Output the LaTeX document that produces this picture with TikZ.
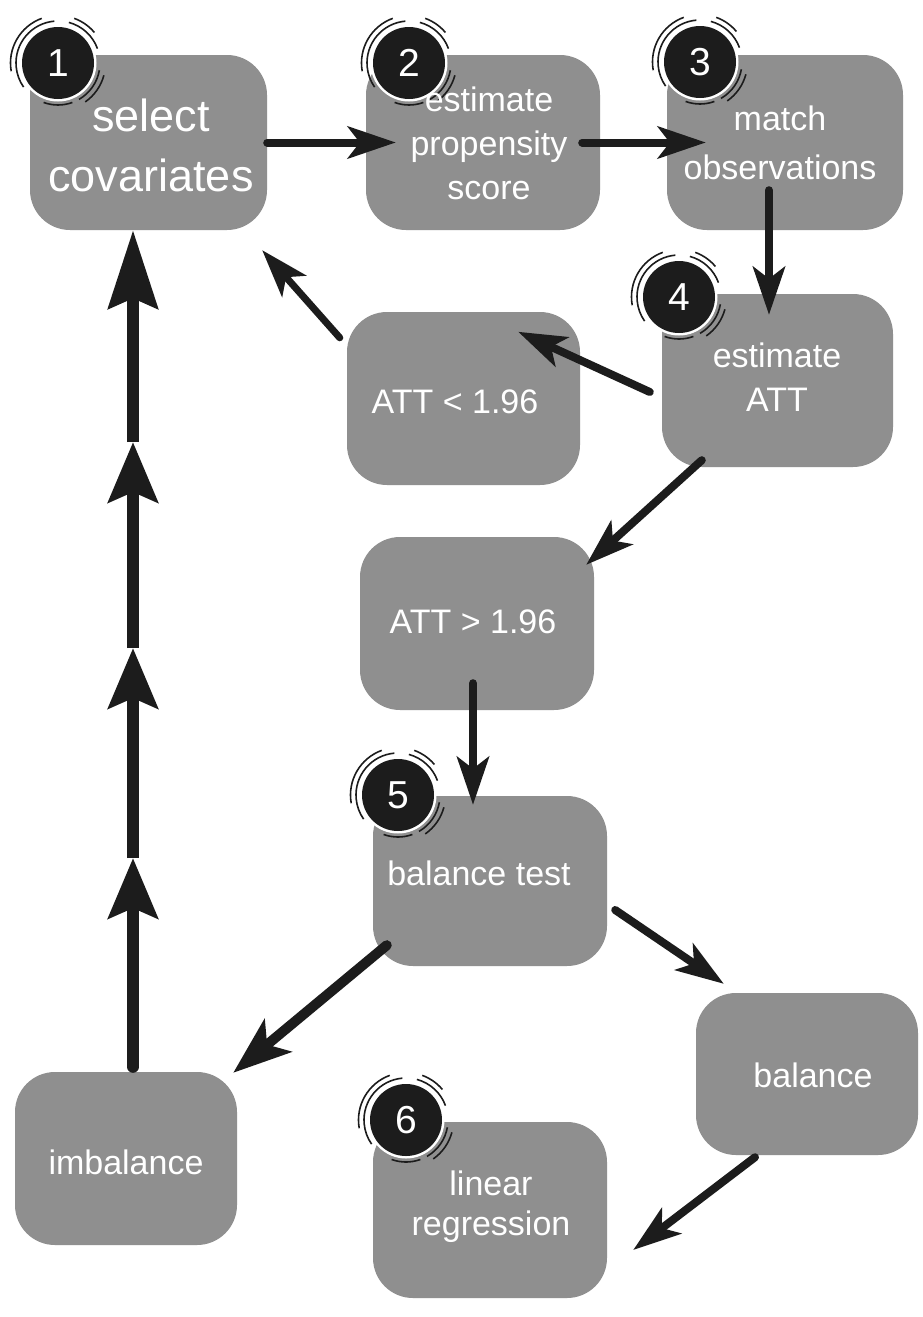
\documentclass[tikz,border=0pt]{standalone}
\usepackage{fontspec}
\setmainfont{Liberation Sans}
\usetikzlibrary{arrows.meta,calc}
\definecolor{boxgray}{HTML}{8F8F8F}
\definecolor{ink}{HTML}{1C1C1C}
\tikzset{
  box/.style={fill=boxgray, rounded corners=40pt, inner sep=0pt,
    minimum width=234pt, minimum height=174pt},
  lbl/.style={text=white, align=center, inner sep=0pt, font=\fontsize{34}{44}\selectfont},
  badge/.style={circle, fill=ink, text=white, minimum size=72pt, inner sep=0pt,
    font=\fontsize{39}{39}\selectfont},
  ring/.style={ink, line width=1.6pt},
  conn/.style={ink, line width=8pt, line cap=round, -{Stealth[length=48pt,width=32pt,inset=12pt]}},
  bigconn/.style={ink, line width=10pt, line cap=round, -{Stealth[length=58pt,width=42pt,inset=14pt]}},
  colseg/.style={ink, line width=12pt, -{Stealth[length=60pt,width=49pt,inset=10pt]}},
  coltop/.style={ink, line width=12pt, -{Stealth[length=78pt,width=49pt,inset=10pt]}},
}
\newcommand\drawbadge[3]{%
  \fill[white] #2 circle[radius=38.5pt];
  \node[badge] (#1) at #2 {#3};
  \foreach \sa/\ea/\rd in {95/215/42, 250/290/42, 300/350/42, 20/75/42, 110/190/47.5, 305/345/47.5, 40/70/47.5}
    \draw[ring] ($(#1.center)+(\sa:\rd pt)$) arc[start angle=\sa, end angle=\ea, radius=\rd pt];
}
\begin{document}
\begin{tikzpicture}[x=1pt,y=1pt]
\fill[white] (0,0) rectangle (922,-1317);
\useasboundingbox (0,0) rectangle (922,-1317);

% boxes
\node[box, minimum width=237pt, minimum height=175pt] (b1) at (148.5,-142.5) {};
\node[box, minimum height=175pt] (b2) at (483,-142.5) {};
\node[box, minimum width=236pt, minimum height=175pt] (b3) at (785,-142.5) {};
\node[box, minimum width=231pt, minimum height=173pt] (b4) at (777.5,-380.5) {};
\node[box, minimum width=233pt, minimum height=173pt] (blt) at (463.5,-398.5) {};
\node[box, minimum width=234pt, minimum height=173pt] (bgt) at (477,-623.5) {};
\node[box, minimum width=234pt, minimum height=170pt] (b5) at (490,-881) {};
\node[box, minimum width=222pt, minimum height=162pt] (bbal) at (807,-1074) {};
\node[box, minimum width=222pt, minimum height=173pt] (bimb) at (126,-1158.5) {};
\node[box, minimum width=234pt, minimum height=176pt] (b6) at (490,-1210) {};

% connectors
\draw[conn] (b1.east) -- ($(b2.west)+(30,0)$);
\draw[conn] ($(b2.east)+(-18,0)$) -- ($(b3.west)+(39,0)$);
\draw[conn] ($(b3.south)+(-16,40)$) -- ($(b4.north)+(-8.5,-21)$);
\draw[conn] ($(b4.west)+(-12,-11.5)$) -- ($(blt.north east)+(-62,-20)$);
\draw[conn, line width=7pt] ($(blt.north west)+(-7,-26)$) -- ($(b1.south east)+(-5,-20)$);
\draw[conn] ($(b4.south west)+(40,7)$) -- ($(bgt.north east)+(-8,-28)$);
\draw[conn] ($(bgt.south)+(-4,27)$) -- ($(b5.north)+(-17,-9)$);
\draw[bigconn] ($(b5.south west)+(14,21)$) -- ($(bimb.north east)+(-4,-1)$);
\draw[conn] ($(b5.east)+(8,-29)$) -- ($(bbal.north west)+(28,9)$);
\draw[conn] ($(bbal.south)+(-52,-2)$) -- ($(b6.east)+(26,-40)$);

% left column with repeated heads
\coordinate (c0) at ($(bimb.north)+(7,5)$);
\coordinate (c1) at (133,-858);
\coordinate (c2) at (133,-648);
\coordinate (c3) at (133,-442);
\draw[colseg, line cap=round] (c0) -- (c1);
\draw[colseg] (c1) -- (c2);
\draw[colseg] (c2) -- (c3);
\draw[coltop] (c3) -- (c0 |- b1.south);

% badges
\drawbadge{g1}{(58,-63)}{1}
\drawbadge{g2}{(409,-63)}{2}
\drawbadge{g3}{(700,-62)}{3}
\drawbadge{g4}{(679,-297)}{4}
\drawbadge{g5}{(398,-795)}{5}
\drawbadge{g6}{(406,-1120)}{6}

% labels
\node[lbl, font=\fontsize{45}{60}\selectfont] (t1) at (151,-145) {select\\covariates};
\node[lbl] (t2) at (489,-143) {estimate\\propensity\\score};
\node[lbl, font=\fontsize{34}{49}\selectfont] (t3) at (780,-142.5) {match\\observations};
\node[lbl] (t4) at (777,-377) {estimate\\ATT};
\node[lbl] (tlt) at (455,-402) {ATT < 1.96};
\node[lbl] (tgt) at (473,-622) {ATT > 1.96};
\node[lbl] (t5) at (479,-873) {balance test};
\node[lbl] (tbal) at (813,-1075) {balance};
\node[lbl] (timb) at (126,-1162) {imbalance};
\node[lbl, font=\fontsize{34}{40}\selectfont] (t6) at (491,-1207) {linear\\regression};
\end{tikzpicture}
\end{document}
